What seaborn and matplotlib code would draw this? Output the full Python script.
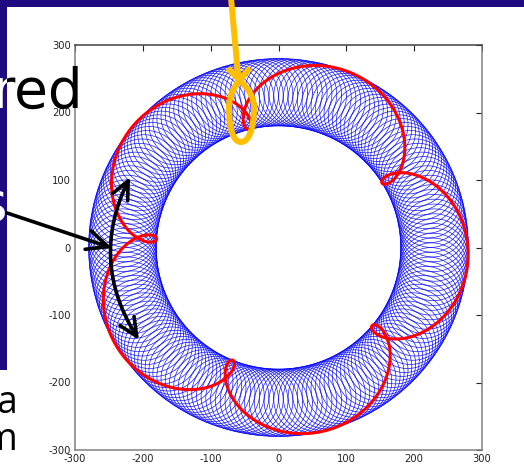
import numpy as np
import pandas as pd
import matplotlib
matplotlib.use("Agg")
import matplotlib.pyplot as plt
from matplotlib.patches import Rectangle, PathPatch
from matplotlib.path import Path
from matplotlib.transforms import Bbox, TransformedBbox
import seaborn as sns

### ---------------- VALUES ---------------- ###
deferent_radius = 230      # radius of the big circle the epicycles ride on
epicycle_radius = 50       # radius of each small blue circle / the planet's epicycle
red_loops = 5              # retrograde loops in one revolution
red_phase_deg = 20         # puts the first loop on the left, near 176 deg
blue_circle_count = 200    # small circles drawn round the ring

x_ticks = [-300, -200, -100, 0, 100, 200, 300]
y_ticks = [-300, -200, -100, 0, 100, 200, 300]
axis_limits = (-300, 300)

slide_words = ["ered", "s", "a", "m"]

NAVY = "#1f0a82"
ORANGE = "#ffbf00"


### ---------------- CURVES ---------------- ###
def blue_circles():
    """One small circle per epicycle position, tagged by circle number."""
    rows = []
    t = np.linspace(0, 2 * np.pi, 61)
    for k, c in enumerate(np.linspace(0, 2 * np.pi, blue_circle_count, endpoint=False)):
        cx = deferent_radius * np.cos(c)
        cy = deferent_radius * np.sin(c)
        rows.append(pd.DataFrame({"x": cx + epicycle_radius * np.cos(t),
                                  "y": cy + epicycle_radius * np.sin(t),
                                  "circle": k}))
    return pd.concat(rows, ignore_index=True)


def red_path():
    """Planet on the epicycle: deferent plus faster epicycle turn."""
    th = np.linspace(0, 2 * np.pi, 3000)
    ph = np.deg2rad(red_phase_deg)
    w = red_loops + 1
    x = deferent_radius * np.cos(th) + epicycle_radius * np.cos(w * th + ph)
    y = deferent_radius * np.sin(th) + epicycle_radius * np.sin(w * th + ph)
    return pd.DataFrame({"x": x, "y": y})


### ---------------- FIGURE ---------------- ###
sns.set_style("white")
plt.rcParams["font.family"] = ["DejaVu Sans"]
plt.rcParams["axes.unicode_minus"] = False

W, H = 524, 466
fig = plt.figure(figsize=(W / 100, H / 100), dpi=100)
fig.patch.set_facecolor("white")

ax = fig.add_axes([75 / W, 1 - 450 / H, (482 - 75) / W, (450 - 45) / H])
sns.lineplot(data=blue_circles(), x="x", y="y", units="circle", estimator=None,
             sort=False, color="#0000ff", lw=0.45, ax=ax, legend=False)
red = red_path()
sns.lineplot(data=red, x="x", y="y", estimator=None, sort=False,
             color="#ff0000", lw=2.2, ax=ax, legend=False)

ax.set_xlim(*axis_limits)
ax.set_ylim(*axis_limits)
ax.set_xticks(x_ticks)
ax.set_yticks(y_ticks)
ax.set_xlabel("")
ax.set_ylabel("")
ax.tick_params(direction="in", length=4, width=0.8, colors="#222222",
               top=True, right=True, labelsize=7.2, pad=3)
for side, sp in ax.spines.items():
    sp.set_visible(True)
    sp.set_linewidth(1.1)
    sp.set_color("#404040" if side == "top" else "#808080")

# slide bits around the plot, in pixel coordinates
ov = fig.add_axes([0, 0, 1, 1], zorder=10)
ov.set_xlim(0, W)
ov.set_ylim(H, 0)
ov.axis("off")
ov.patch.set_alpha(0)

ov.add_patch(Rectangle((0, 0), W, 7, color=NAVY, lw=0))
ov.add_patch(Rectangle((0, 0), 7, 370, color=NAVY, lw=0))

big = dict(fontsize=39.5, family=["Liberation Sans Narrow", "DejaVu Sans"],
           ha="right", va="baseline")
ov.text(83, 108, slide_words[0], color="black", **big)
# the part of the word lying on the navy strip shows white
white_copy = ov.text(83, 108, slide_words[0], color="white", **big)
white_copy.set_clip_on(True)
white_copy.set_clip_box(TransformedBbox(Bbox([[0, 0], [7, 370]]), ov.transData))
ov.text(7, 221, slide_words[1], color="white", **big)

small = dict(fontsize=27, family=["Open Sans", "DejaVu Sans"], ha="right",
             va="baseline", color="black")
ov.text(17, 413, slide_words[2], **small)
ov.text(17, 450, slide_words[3], **small)

# black arrows
ov.annotate("", xy=(112, 248), xytext=(7, 213),
            arrowprops=dict(arrowstyle="->,head_length=1.5,head_width=0.7",
                            lw=2.6, color="black", shrinkA=0, shrinkB=0))
ov.annotate("", xy=(139, 340), xytext=(130, 177),
            arrowprops=dict(arrowstyle="<->,head_length=1.3,head_width=0.6",
                            lw=2.6, color="black", shrinkA=0, shrinkB=0,
                            connectionstyle="arc3,rad=0.28"))

# orange lasso round the top loop
ov.plot([231, 238.5], [-2, 80], color=ORANGE, lw=4.3, solid_capstyle="butt")
verts = [(228, 68),
         (240, 82), (254, 90), (254, 108),
         (254, 128), (249, 142), (241, 142),
         (233, 142), (229, 128), (229, 108),
         (229, 90), (238, 82), (250, 68)]
codes = [Path.MOVETO] + [Path.CURVE4] * 12
ov.add_patch(PathPatch(Path(verts, codes), facecolor="none",
                       edgecolor=ORANGE, lw=4.3))

fig.savefig("out.png", dpi=100, facecolor="white")
